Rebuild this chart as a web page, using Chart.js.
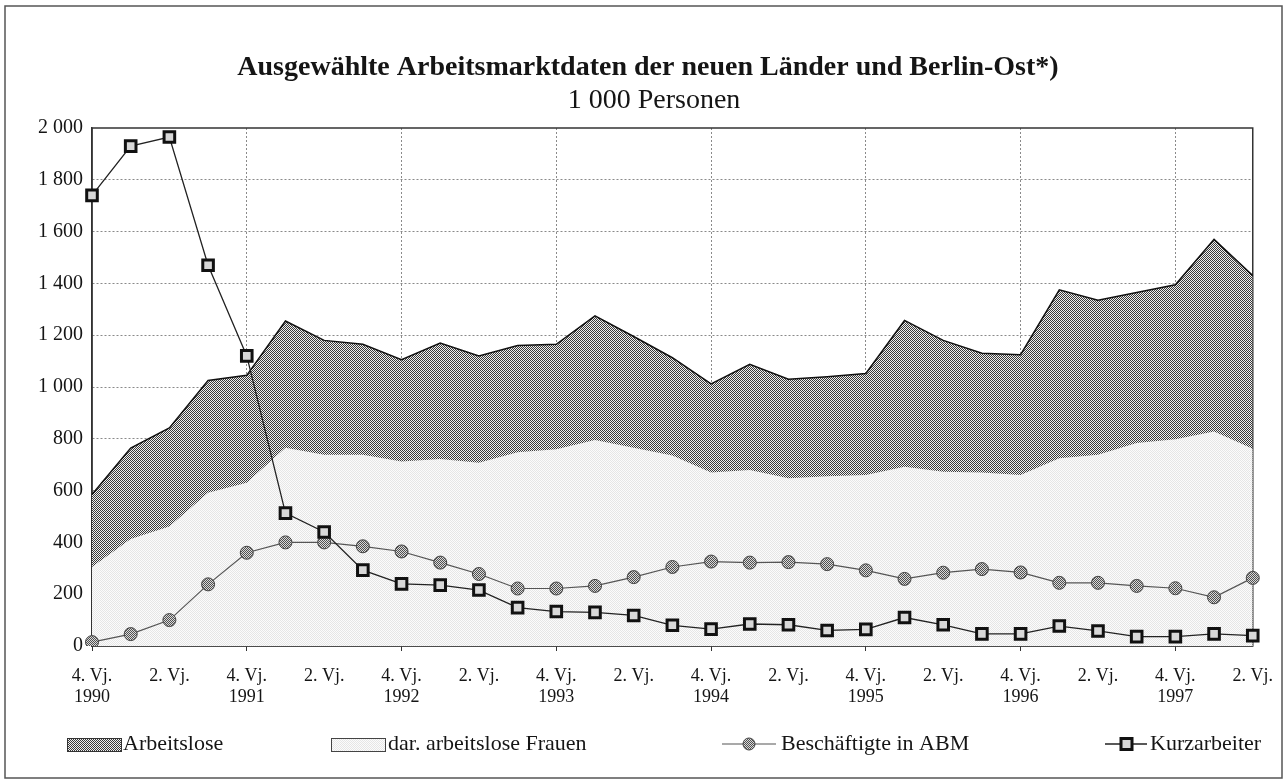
<!DOCTYPE html>
<html lang="de">
<head>
<meta charset="utf-8">
<title>Arbeitsmarktdaten neue Länder</title>
<script src="https://cdn.jsdelivr.net/npm/chart.js@4.4.1/dist/chart.umd.min.js"></script>
<style>
html,body{margin:0;padding:0;background:#fff;}
#wrap{width:1287px;height:781px;}
</style>
</head>
<body>
<div id="wrap"><canvas id="ch" width="1287" height="781"></canvas></div>
<script>
// Daten in 1 000 Personen, 4. Vj. 1990 bis 2. Vj. 1998
const quartale = [
  '4. Vj. 1990','1. Vj. 1991','2. Vj. 1991','3. Vj. 1991','4. Vj. 1991',
  '1. Vj. 1992','2. Vj. 1992','3. Vj. 1992','4. Vj. 1992',
  '1. Vj. 1993','2. Vj. 1993','3. Vj. 1993','4. Vj. 1993',
  '1. Vj. 1994','2. Vj. 1994','3. Vj. 1994','4. Vj. 1994',
  '1. Vj. 1995','2. Vj. 1995','3. Vj. 1995','4. Vj. 1995',
  '1. Vj. 1996','2. Vj. 1996','3. Vj. 1996','4. Vj. 1996',
  '1. Vj. 1997','2. Vj. 1997','3. Vj. 1997','4. Vj. 1997',
  '1. Vj. 1998','2. Vj. 1998'
];
const arbeitslose = [585,764,842,1025,1045,1255,1180,1165,1105,1170,1120,1160,1165,1275,1195,1113,
                     1012,1088,1030,1040,1052,1257,1180,1130,1125,1375,1335,1365,1395,1570,1430];
const frauen      = [305,413,461,592,630,765,738,738,712,722,708,748,760,795,765,736,
                     670,680,648,655,660,692,673,670,660,725,738,784,798,828,762];
const abm         = [15,46,100,238,360,400,400,385,365,322,278,222,222,232,266,305,
                     326,322,324,316,292,259,283,297,284,244,244,232,223,188,263];
const kurzarbeit  = [1740,1930,1965,1470,1120,513,440,293,240,235,216,148,133,130,118,80,
                     65,85,82,60,64,110,82,47,47,77,58,36,36,47,40];
const yTicks = [0,200,400,600,800,1000,1200,1400,1600,1800,2000];

const FONT = '"Liberation Serif","Times New Roman",serif';
const INK = '#151515';

const canvas = document.getElementById('ch');
const ctx0 = canvas.getContext('2d');

// Rasterflächen wie im Druck
function raster(a,b){
  const c=document.createElement('canvas'); c.width=2; c.height=2;
  const x=c.getContext('2d');
  x.fillStyle=b; x.fillRect(0,0,2,2);
  x.fillStyle=a; x.fillRect(0,0,1,1); x.fillRect(1,1,1,1);
  return ctx0.createPattern(c,'repeat');
}
const P_DUNKEL = raster('#3a3a3a','#f0f0f0');
const P_HELL   = raster('#e6e6e6','#fcfcfc');
const P_ABM    = raster('#505050','#dadada');

const fmtTsd = v => String(v).replace(/\B(?=(\d{3})+(?!\d))/g,' ');

const deko = {
  id:'deko',
  beforeDraw(chart){
    const c=chart.ctx; c.save();
    c.fillStyle='#fff'; c.fillRect(0,0,chart.width,chart.height);
    c.strokeStyle='#555'; c.lineWidth=1.5; c.strokeRect(5,6,1277,772);
    c.restore();
  },
  beforeDatasetsDraw(chart){
    const a=chart.chartArea, c=chart.ctx; c.save();
    c.strokeStyle='#333'; c.lineWidth=1.5;
    c.strokeRect(a.left,a.top,a.right-a.left,a.bottom-a.top);
    c.restore();
  },
  afterDraw(chart){
    const c=chart.ctx; c.save();
    c.fillStyle=INK; c.textAlign='center'; c.textBaseline='middle';
    c.font='bold 28px '+FONT;
    c.fillText('Ausgewählte Arbeitsmarktdaten der neuen Länder und Berlin-Ost*)',648,68);
    c.font='28px '+FONT;
    c.fillText('1 000 Personen',654,101);

    // Legende
    const y=744;
    c.font='22px '+FONT; c.textAlign='left';
    c.fillStyle=P_DUNKEL; c.fillRect(67,738,54,13);
    c.strokeStyle='#333'; c.lineWidth=1; c.strokeRect(67.5,738.5,54,13);
    c.fillStyle=INK; c.fillText('Arbeitslose',123,y);

    c.fillStyle=P_HELL; c.fillRect(331,738,54,13);
    c.strokeStyle='#444'; c.strokeRect(331.5,738.5,54,13);
    c.fillStyle=INK; c.fillText('dar. arbeitslose Frauen',388,y);

    c.strokeStyle='#555'; c.lineWidth=1.2;
    c.beginPath(); c.moveTo(722,y); c.lineTo(776,y); c.stroke();
    c.beginPath(); c.arc(749,y,6,0,Math.PI*2);
    c.fillStyle=P_ABM; c.fill(); c.strokeStyle='#444'; c.lineWidth=1; c.stroke();
    c.fillStyle=INK; c.fillText('Beschäftigte in ABM',781,y);

    c.strokeStyle='#222'; c.lineWidth=1.3;
    c.beginPath(); c.moveTo(1105,y); c.lineTo(1147,y); c.stroke();
    c.fillStyle='#d8d8d8'; c.fillRect(1121,y-5.5,11,11);
    c.strokeStyle='#111'; c.lineWidth=3; c.strokeRect(1121,y-5.5,11,11);
    c.fillStyle=INK; c.fillText('Kurzarbeiter',1150,y);
    c.restore();
  }
};

new Chart(canvas,{
  type:'line',
  data:{
    labels:quartale,
    datasets:[
      {label:'Kurzarbeiter',data:kurzarbeit,order:0,borderColor:'#222',borderWidth:1.3,
       pointStyle:'rect',pointRadius:7.5,pointBorderWidth:3,pointBorderColor:'#111',
       pointBackgroundColor:'#d8d8d8',fill:false,tension:0},
      {label:'Beschäftigte in ABM',data:abm,order:1,borderColor:'#555',borderWidth:1.2,
       pointStyle:'circle',pointRadius:6.5,pointBorderWidth:1,pointBorderColor:'#444',
       pointBackgroundColor:P_ABM,fill:false,tension:0},
      {label:'dar. arbeitslose Frauen',data:frauen,order:2,borderWidth:0,borderColor:'rgba(0,0,0,0)',
       backgroundColor:P_HELL,pointRadius:0,fill:'origin',tension:0},
      {label:'Arbeitslose',data:arbeitslose,order:3,borderColor:'#111',borderWidth:1.5,
       backgroundColor:P_DUNKEL,pointRadius:0,fill:'origin',tension:0}
    ]
  },
  options:{
    responsive:false,animation:false,events:[],
    layout:{padding:{left:5,right:33,top:128,bottom:75}},
    plugins:{legend:{display:false},title:{display:false},tooltip:{enabled:false}},
    scales:{
      x:{
        afterFit(s){ s.height=60; },
        grid:{
          color:c=>c.index%4===0&&c.index>0?'#8a8a8a':'rgba(0,0,0,0)',
          tickColor:c=>c.index%4===0?'#333':'rgba(0,0,0,0)',
          tickLength:5,lineWidth:1
        },
        border:{color:'#333',width:1.5,dash:[2,2]},
        ticks:{
          autoSkip:false,maxRotation:0,minRotation:0,padding:14,color:INK,
          font:{family:FONT,size:18},
          callback(v,i){
            const q=quartale[i]; const [n,,j]=q.split(' ');
            if(n==='4.') return ['4. Vj.',j];
            if(n==='2.') return '2. Vj.';
            return '';
          }
        }
      },
      y:{
        min:0,max:2000,
        afterFit(s){ s.width=87; },
        afterBuildTicks(s){ s.ticks=yTicks.map(v=>({value:v})); },
        grid:{
          color:c=>c.index>0&&c.index<yTicks.length-1?'#8a8a8a':'rgba(0,0,0,0)',
          drawTicks:false,lineWidth:1
        },
        border:{color:'#333',width:1.5,dash:[2,2]},
        ticks:{padding:9,color:INK,font:{family:FONT,size:20},callback:v=>fmtTsd(v)}
      }
    }
  },
  plugins:[deko]
});
</script>
</body>
</html>
